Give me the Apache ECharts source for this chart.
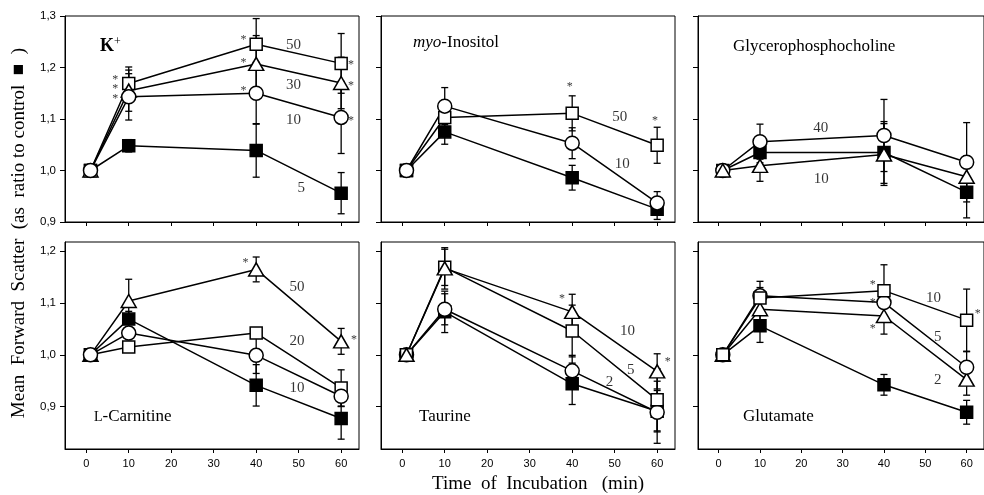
<!DOCTYPE html>
<html>
<head>
<meta charset="utf-8">
<style>
  html, body { margin: 0; padding: 0; background: #fff; }
  #chart { width: 984px; height: 495px; }
</style>
<script src="https://cdn.jsdelivr.net/npm/echarts@6.0.0/dist/echarts.min.js"></script>
</head>
<body>
<div id="chart"></div>
<script>
// sampling times (min)
const timePoints = [1, 10, 40, 60];
const xTicks = [0, 10, 20, 30, 40, 50, 60];
const yTicksTop = [0.9, 1.0, 1.1, 1.2, 1.3];
const yTicksBottom = [0.9, 1.0, 1.1, 1.2];

// K+
const kControl = [1.0, 1.048, 1.039, 0.956];
const kControlErr = [0, 0.012, 0.052, 0.04];
const k50 = [1.0, 1.169, 1.245, 1.208];
const k50Err = [0, 0.032, 0.05, 0.058];
const k30 = [1.0, 1.155, 1.207, 1.170];
const k30Err = [0, 0.04, 0.055, 0.05];
const k10 = [1.0, 1.143, 1.150, 1.103];
const k10Err = [0, 0.045, 0.06, 0.07];
const kLabels = [[48.8, 1.243, '50'], [48.8, 1.166, '30'], [48.8, 1.098, '10'], [50.6, 0.966, '5']];
const kStars = [[6.8, 1.181], [6.8, 1.164], [6.8, 1.145], [37.0, 1.259], [37.0, 1.215], [37.0, 1.160], [62.3, 1.211], [62.3, 1.171], [62.3, 1.103]];

// myo-Inositol
const myoControl = [1.0, 1.075, 0.986, 0.925];
const myoControlErr = [0, 0.024, 0.024, 0.02];
const myo50 = [1.0, 1.103, 1.111, 1.049];
const myo50Err = [0, 0.03, 0.034, 0.035];
const myo10 = [1.0, 1.125, 1.053, 0.937];
const myo10Err = [0, 0.036, 0.03, 0.022];
const myoLabels = [[51.2, 1.104, '50'], [51.8, 1.013, '10']];
const myoStars = [[39.4, 1.169], [59.5, 1.102]];

// Glycerophosphocholine
const gpcControl = [1.0, 1.035, 1.035, 0.958];
const gpcControlErr = [0, 0.02, 0.06, 0.05];
const gpc40 = [1.0, 1.056, 1.068, 1.016];
const gpc40Err = [0, 0.034, 0.07, 0.077];
const gpc10 = [1.0, 1.009, 1.031, 0.988];
const gpc10Err = [0, 0.03, 0.06, 0.04];
const gpcLabels = [[24.7, 1.082, '40'], [24.8, 0.983, '10']];
const gpcStars = [];

// L-Carnitine
const carControl = [1.0, 1.069, 0.941, 0.877];
const carControlErr = [0, 0.015, 0.04, 0.04];
const car50 = [1.0, 1.104, 1.165, 1.026];
const car50Err = [0, 0.042, 0.024, 0.025];
const car20 = [1.0, 1.015, 1.042, 0.936];
const car20Err = [0, 0.01, 0.01, 0.035];
const car10 = [1.0, 1.042, 0.999, 0.920];
const car10Err = [0, 0.01, 0.035, 0.02];
const carLabels = [[49.6, 1.131, '50'], [49.6, 1.027, '20'], [49.6, 0.935, '10']];
const carStars = [[37.5, 1.184], [63.0, 1.035]];

// Taurine
const taurControl = [1.0, 1.083, 0.944, 0.891];
const taurControlErr = [0, 0.04, 0.04, 0.04];
const taur10 = [1.0, 1.167, 1.083, 0.968];
const taur10Err = [0, 0.04, 0.034, 0.034];
const taur5 = [1.0, 1.169, 1.046, 0.913];
const taur5Err = [0, 0.035, 0.05, 0.06];
const taur2 = [1.0, 1.088, 0.969, 0.889];
const taur2Err = [0, 0.03, 0.03, 0.06];
const taurLabels = [[53.0, 1.045, '10'], [53.8, 0.971, '5'], [48.8, 0.947, '2']];
const taurStars = [[37.6, 1.114], [62.5, 0.993]];

// Glutamate
const gluControl = [1.0, 1.056, 0.942, 0.889];
const gluControlErr = [0, 0.032, 0.02, 0.023];
const glu10 = [1.0, 1.110, 1.124, 1.067];
const glu10Err = [0, 0.02, 0.05, 0.06];
const glu5 = [1.0, 1.114, 1.101, 0.976];
const glu5Err = [0, 0.028, 0.03, 0.03];
const glu2 = [1.0, 1.088, 1.075, 0.952];
const glu2Err = [0, 0.02, 0.035, 0.03];
const gluLabels = [[52.0, 1.110, '10'], [53.0, 1.035, '5'], [53.0, 0.952, '2']];
const gluStars = [[37.3, 1.141], [37.3, 1.107], [37.3, 1.056], [62.7, 1.085]];

const shapes = {
  control: { symbol: 'rect', size: 12, fill: '#000' },
  square: { symbol: 'rect', size: 12, fill: '#fff' },
  triangle: { symbol: 'triangle', size: [15, 13], fill: '#fff' },
  circle: { symbol: 'circle', size: 14, fill: '#fff' }
};

const panels = [
  { grid: { left: 65, top: 16 }, yMin: 0.9, yMax: 1.3, yTicks: yTicksTop, showY: true, showX: false,
    groups: [['control', kControl, kControlErr], ['square', k50, k50Err], ['triangle', k30, k30Err], ['circle', k10, k10Err]],
    labels: kLabels, stars: kStars },
  { grid: { left: 381, top: 16 }, yMin: 0.9, yMax: 1.3, yTicks: yTicksTop, showY: false, showX: false,
    groups: [['control', myoControl, myoControlErr], ['square', myo50, myo50Err], ['circle', myo10, myo10Err]],
    labels: myoLabels, stars: myoStars },
  { grid: { left: 698, top: 16 }, yMin: 0.9, yMax: 1.3, yTicks: yTicksTop, showY: false, showX: false,
    groups: [['control', gpcControl, gpcControlErr], ['circle', gpc40, gpc40Err], ['triangle', gpc10, gpc10Err]],
    labels: gpcLabels, stars: gpcStars },
  { grid: { left: 65, top: 242 }, yMin: 0.818, yMax: 1.218, yTicks: yTicksBottom, showY: true, showX: true,
    groups: [['control', carControl, carControlErr], ['triangle', car50, car50Err], ['square', car20, car20Err], ['circle', car10, car10Err]],
    labels: carLabels, stars: carStars },
  { grid: { left: 381, top: 242 }, yMin: 0.818, yMax: 1.218, yTicks: yTicksBottom, showY: false, showX: true,
    groups: [['control', taurControl, taurControlErr], ['circle', taur2, taur2Err], ['square', taur5, taur5Err], ['triangle', taur10, taur10Err]],
    labels: taurLabels, stars: taurStars },
  { grid: { left: 698, top: 242 }, yMin: 0.818, yMax: 1.218, yTicks: yTicksBottom, showY: false, showX: true,
    groups: [['control', gluControl, gluControlErr], ['triangle', glu2, glu2Err], ['circle', glu5, glu5Err], ['square', glu10, glu10Err]],
    labels: gluLabels, stars: gluStars }
];

function renderErrorBar(params, api) {
  const x = api.value(0), y = api.value(1), e = api.value(2);
  if (!e) return null;
  const hi = api.coord([x, y + e]);
  const lo = api.coord([x, y - e]);
  const cap = 3.5;
  const style = { stroke: '#000', lineWidth: 1.3 };
  return {
    type: 'group',
    children: [
      { type: 'line', shape: { x1: hi[0], y1: hi[1], x2: lo[0], y2: lo[1] }, style },
      { type: 'line', shape: { x1: hi[0] - cap, y1: hi[1], x2: hi[0] + cap, y2: hi[1] }, style },
      { type: 'line', shape: { x1: lo[0] - cap, y1: lo[1], x2: lo[0] + cap, y2: lo[1] }, style }
    ]
  };
}

const serif = 'Liberation Serif';
const sans = 'Liberation Sans';
const fmtY = v => v.toFixed(1).replace('.', ',');

const grids = [], xAxes = [], yAxes = [], series = [];

panels.forEach((p, i) => {
  grids.push({
    left: p.grid.left, top: p.grid.top, width: 294, height: p.grid.top < 100 ? 206 : 207,
    show: true, borderColor: '#000', borderWidth: 1, backgroundColor: 'transparent'
  });
  xAxes.push({
    type: 'value', gridIndex: i, min: -5, max: 64.2,
    axisLine: { show: true, onZero: false, lineStyle: { color: '#000', width: 1 } },
    axisTick: { show: true, inside: false, length: 4, customValues: xTicks, lineStyle: { color: '#000' } },
    axisLabel: { show: p.showX, customValues: xTicks, margin: 9, fontFamily: sans, fontSize: 11, color: '#000' },
    splitLine: { show: false }
  });
  yAxes.push({
    type: 'value', gridIndex: i, min: p.yMin, max: p.yMax,
    axisLine: { show: true, onZero: false, lineStyle: { color: '#000', width: 1 } },
    axisTick: { show: true, inside: false, length: 5, customValues: p.yTicks, lineStyle: { color: '#000' } },
    axisLabel: { show: p.showY, customValues: p.yTicks, formatter: fmtY, margin: 9, fontFamily: sans, fontSize: 11.5, color: '#000' },
    splitLine: { show: false }
  });

  p.groups.forEach(([shape, values, errors]) => {
    const s = shapes[shape];
    series.push({
      type: 'custom', xAxisIndex: i, yAxisIndex: i, silent: true, z: 1,
      renderItem: renderErrorBar,
      encode: { x: 0, y: 1 },
      data: timePoints.map((t, k) => [t, values[k], errors[k]])
    });
    series.push({
      type: 'line', xAxisIndex: i, yAxisIndex: i, silent: true, z: 2,
      data: timePoints.map((t, k) => [t, values[k]]),
      symbol: s.symbol, symbolSize: s.size, showSymbol: true,
      lineStyle: { color: '#000', width: 1.5 },
      itemStyle: { color: s.fill, borderColor: '#000', borderWidth: 1.5 }
    });
  });

  series.push({
    type: 'scatter', xAxisIndex: i, yAxisIndex: i, silent: true, z: 5,
    symbolSize: 1, itemStyle: { color: 'transparent' },
    data: p.labels.map(([x, y, t]) => ({ name: t, value: [x, y] })),
    label: { show: true, position: 'inside', formatter: '{b}', fontFamily: serif, fontSize: 15, color: '#000' }
  });
  series.push({
    type: 'scatter', xAxisIndex: i, yAxisIndex: i, silent: true, z: 5,
    symbolSize: 1, itemStyle: { color: 'transparent' },
    data: p.stars.map(([x, y]) => [x, y]),
    label: { show: true, position: 'inside', formatter: '*', offset: [0, 3], fontFamily: serif, fontSize: 12, color: '#000' }
  });
});

const titleText = (x, y, text, rich) => ({
  type: 'text', x, y, silent: true,
  style: { text, rich, fill: '#000', font: '17px "Liberation Serif"', align: 'left', verticalAlign: 'middle' }
});

const option = {
  animation: false,
  backgroundColor: '#fff',
  grid: grids,
  xAxis: xAxes,
  yAxis: yAxes,
  series,
  graphic: [
    titleText(100, 46, '{k|K}{sup|+}', {
      k: { fontFamily: serif, fontSize: 18, fontWeight: 'bold', lineHeight: 20 },
      sup: { fontFamily: serif, fontSize: 12, verticalAlign: 'top', lineHeight: 20, padding: [0, 0, 8, 0] }
    }),
    titleText(413, 43, '{i|myo}-Inositol', {
      i: { fontFamily: serif, fontSize: 17, fontStyle: 'italic' }
    }),
    titleText(733, 47, 'Glycerophosphocholine'),
    titleText(94, 417, '{sc|L}-Carnitine', {
      sc: { fontFamily: serif, fontSize: 14 }
    }),
    titleText(419, 417, 'Taurine'),
    titleText(743, 417, 'Glutamate'),
    {
      type: 'text', x: 19, y: 233, rotation: Math.PI / 2, silent: true,
      style: {
        text: 'Mean  Forward  Scatter  (as  ratio to control  \u25A0  )',
        fill: '#000', font: '19px "Liberation Serif"', align: 'center', verticalAlign: 'middle'
      }
    },
    {
      type: 'text', x: 538, y: 484, silent: true,
      style: {
        text: 'Time  of  Incubation   (min)',
        fill: '#000', font: '19px "Liberation Serif"', align: 'center', verticalAlign: 'middle'
      }
    }
  ]
};

const chart = echarts.init(document.getElementById('chart'));
chart.setOption(option);
</script>
</body>
</html>
